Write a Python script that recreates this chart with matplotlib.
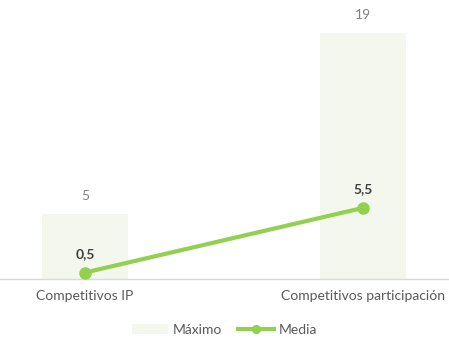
import matplotlib
matplotlib.use('Agg')
import matplotlib.pyplot as plt

plt.rcParams['font.family'] = ['Lato', 'DejaVu Sans']

categories = ['Competitivos IP', 'Competitivos participación']
maximo = [5, 19]
media = [0.5, 5.5]


def fmt(v):
  s = ('%g' % v).replace('.', ',')
  return s


fig = plt.figure(figsize=(4.49, 3.57), dpi=100)
ax = fig.add_axes([0, 78 / 357, 1, 269 / 357])

x = list(range(len(categories)))
bars = ax.bar(x, maximo, width=0.31, color='#F3F7EE', label='Máximo', zorder=1)
line, = ax.plot(x, media, color='#92D050', lw=3, marker='o', ms=8, label='Media', zorder=3)

for xi, v in zip(x, maximo):
  ax.annotate(fmt(v), (xi, v), xytext=(0, 9), textcoords='offset points',
              ha='center', va='bottom', color='#808080', fontsize=10)
for xi, v in zip(x, media):
  ax.annotate(fmt(v), (xi, v), xytext=(0, 9), textcoords='offset points',
              ha='center', va='bottom', color='#404040', fontsize=10, fontweight='bold')

ax.set_xlim(-0.306, 1.309)
ax.set_ylim(0, 20.8)
ax.set_xticks(x)
ax.set_xticklabels(categories, color='#595959', fontsize=10)
ax.tick_params(axis='x', length=0, pad=8)
ax.set_yticks([])
for s in ['top', 'right', 'left']:
  ax.spines[s].set_visible(False)
ax.spines['bottom'].set_color('#D9D9D9')
ax.spines['bottom'].set_linewidth(1)

leg = fig.legend([bars, line], ['Máximo', 'Media'], loc='center',
                 bbox_to_anchor=(0.5, 1 - 330 / 357), ncol=2, frameon=False,
                 fontsize=10, handlelength=2.6, columnspacing=1.2, handletextpad=0.3,
                 labelcolor='#595959', markerscale=0.7)

fig.savefig('out.png', dpi=100)
